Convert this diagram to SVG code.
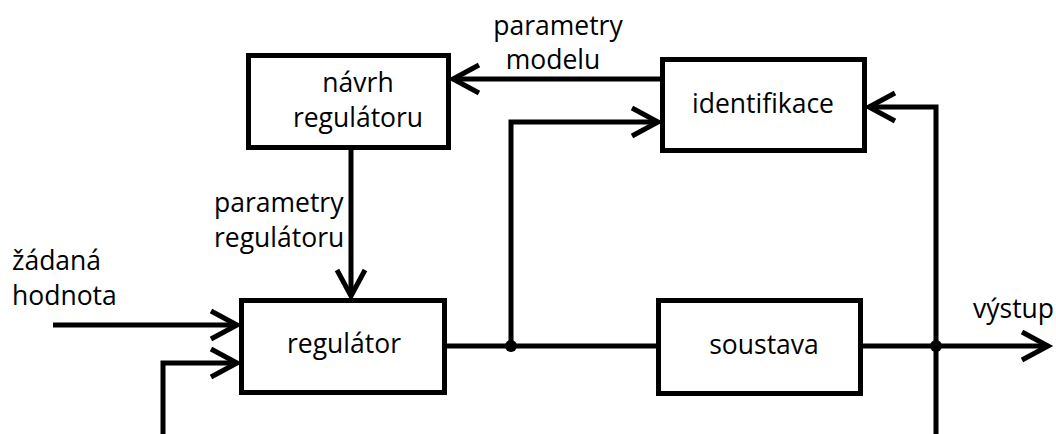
<svg xmlns="http://www.w3.org/2000/svg" width="1056" height="434" viewBox="0 0 1056 434">
<style>
.box{fill:#fff;stroke:#000;stroke-width:5}
.ln{fill:none;stroke:#000;stroke-width:5}
text{font-family:"Open Sans","Liberation Sans",sans-serif;font-size:26.5px;fill:#000}
.c{text-anchor:middle}
</style>
<defs>
<marker id="ah" markerUnits="userSpaceOnUse" markerWidth="40" markerHeight="40" viewBox="-32 -20 40 40" refX="0" refY="0" orient="auto">
<path d="M-26,-14 L0,0 L-26,14" fill="none" stroke="#000" stroke-width="5"/>
</marker>
</defs>
<rect width="1056" height="434" fill="#fff"/>
<g id="connectors">
<path class="ln" d="M660,79 H453" marker-end="url(#ah)"/>
<path class="ln" d="M351,150 V296" marker-end="url(#ah)"/>
<path class="ln" d="M53,325 H237" marker-end="url(#ah)"/>
<path class="ln" d="M163,434 V363 H237" marker-end="url(#ah)"/>
<path class="ln" d="M447,346 H656"/>
<path class="ln" d="M511,346 V122 H658" marker-end="url(#ah)"/>
<path class="ln" d="M863,346 H1048" marker-end="url(#ah)"/>
<path class="ln" d="M936,434 V107 H869" marker-end="url(#ah)"/>
<circle cx="511" cy="346" r="6"/>
<circle cx="936" cy="346" r="6"/>
</g>
<g id="navrh">
<rect class="box" x="248.5" y="55.5" width="200" height="92"/>
<text class="c" x="358" y="92">návrh</text>
<text class="c" x="358" y="127">regulátoru</text>
</g>
<g id="identifikace">
<rect class="box" x="662.5" y="59.5" width="202" height="91"/>
<text class="c" x="763" y="113">identifikace</text>
</g>
<g id="regulator">
<rect class="box" x="241.5" y="300.5" width="203" height="92"/>
<text class="c" x="344" y="353">regulátor</text>
</g>
<g id="soustava">
<rect class="box" x="658.5" y="300.5" width="202" height="93"/>
<text class="c" x="764" y="354">soustava</text>
</g>
<g id="labels">
<text class="c" x="558" y="35">parametry</text>
<text class="c" x="553" y="69">modelu</text>
<text x="214" y="212">parametry</text>
<text x="214" y="247">regulátoru</text>
<text x="12" y="270">žádaná</text>
<text x="12" y="305">hodnota</text>
<text x="973" y="318">výstup</text>
</g>
</svg>
